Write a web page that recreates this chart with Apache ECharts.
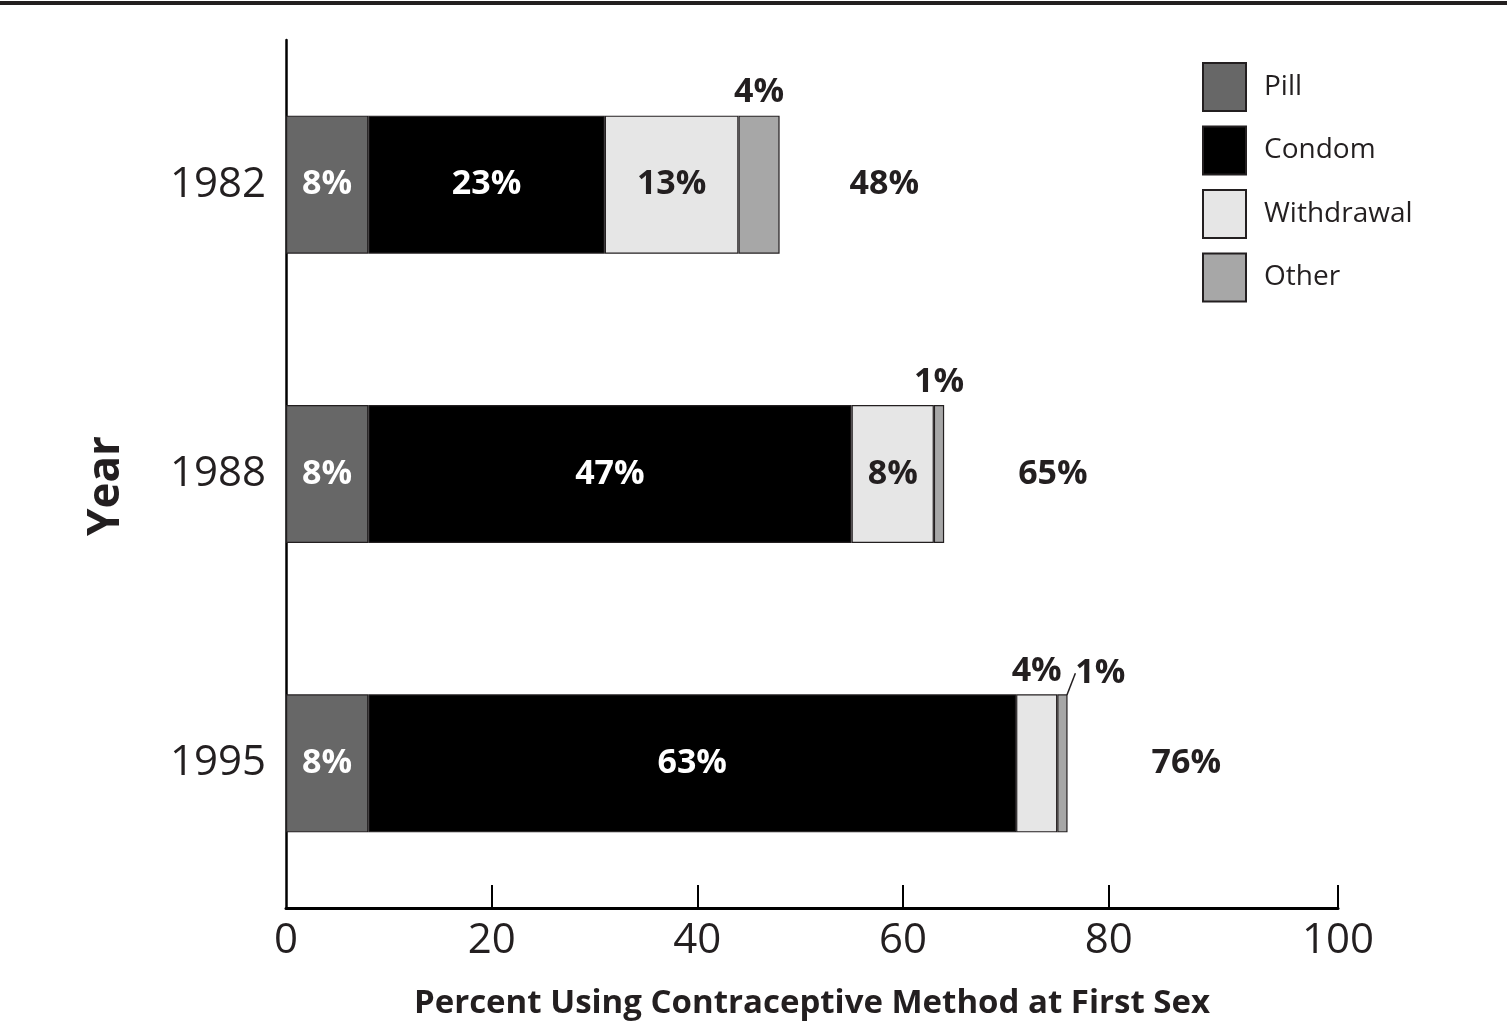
<!DOCTYPE html>
<html>
<head>
<meta charset="utf-8">
<script src="https://cdn.jsdelivr.net/npm/echarts@6/dist/echarts.min.js"></script>
<style>
html,body{margin:0;padding:0;background:#fff;}
#chart{width:1507px;height:1025px;}
</style>
</head>
<body>
<div id="chart"></div>
<script>
// ---- data ----
const years = ['1982', '1988', '1995'];
const pill = [8, 8, 8];
const condom = [23, 47, 63];
const withdrawal = [13, 8, 4];
const other = [4, 1, 1];
const totals = [48, 65, 76];
const tickValues = [0, 20, 40, 60, 80, 100];
const methodNames = ['Pill', 'Condom', 'Withdrawal', 'Other'];

// ---- layout / style constants ----
const FONT = 'Open Sans';
const TXT = '#231f20';
const axisEnd = 102.3;           // the reference's axis runs a little past 100
const totalLabelGaps = [70, 74, 84];
const colors = ['#676767', '#000000', '#e6e6e6', '#a7a7a7'];
const series4 = [pill, condom, withdrawal, other];

const chart = echarts.init(document.getElementById('chart'));

function segLabel(name, v) {
  const small = v < 5;
  const dark = name === 'Pill' || name === 'Condom';
  return {
    show: true,
    position: small ? 'top' : 'inside',
    distance: 6,
    formatter: v + '%',
    fontFamily: FONT, fontWeight: 'bold', fontSize: 34,
    color: (dark && !small) ? '#ffffff' : TXT
  };
}

const barSeries = methodNames.map((name, si) => ({
  name: name,
  type: 'bar',
  stack: 'total',
  barWidth: 138,
  itemStyle: { color: colors[si], borderColor: '#231f20', borderWidth: 1.2 },
  emphasis: { disabled: true },
  labelLine: { show: false },
  labelLayout: (name === 'Other') ? function (p) {
    if (p.dataIndex === 2) return { dx: 38, dy: 2 };
    return {};
  } : undefined,
  data: series4[si].map((v, i) => {
    const item = { value: v, label: segLabel(name, v) };
    if (name === 'Other' && i === 2) {
      item.labelLine = { show: true, lineStyle: { color: TXT, width: 1.5 } };
    }
    return item;
  })
}));

barSeries.push({
  name: 'Total',
  type: 'bar',
  stack: 'total',
  barWidth: 138,
  silent: true,
  itemStyle: { color: 'rgba(0,0,0,0)', borderWidth: 0 },
  data: totals.map((t, i) => ({
    value: 0,
    label: {
      show: true, position: 'right', distance: totalLabelGaps[i],
      formatter: t + '%',
      fontFamily: FONT, fontWeight: 'bold', fontSize: 34, color: TXT
    }
  }))
});

const tickPos = tickValues.map(v => v === 100 ? axisEnd : v);

chart.setOption({
  animation: false,
  backgroundColor: '#ffffff',
  textStyle: { fontFamily: FONT, color: TXT },
  graphic: [{
    type: 'rect', left: 0, top: 1, shape: { width: 1507, height: 4 },
    style: { fill: TXT }
  }],
  legend: {
    data: methodNames,
    orient: 'vertical',
    left: 1202, top: 62,
    itemWidth: 43, itemHeight: 48, itemGap: 13.5,
    icon: 'rect',
    padding: 0,
    selectedMode: false,
    textStyle: { fontFamily: FONT, fontSize: 28, color: TXT, padding: [4, 0, 0, 13] }
  },
  grid: { left: 286, right: 169, top: 40, bottom: 117, containLabel: false },
  xAxis: {
    type: 'value',
    min: 0, max: axisEnd,
    splitLine: { show: false },
    axisLine: { show: true, lineStyle: { color: '#000', width: 3 } },
    axisTick: {
      show: true, inside: true, length: 23,
      customValues: tickPos.filter(v => v !== 0),
      lineStyle: { color: '#000', width: 2 }
    },
    axisLabel: {
      customValues: tickPos,
      formatter: v => (v === axisEnd ? '100' : String(v)),
      fontFamily: FONT, fontSize: 42, color: TXT, margin: 12
    },
    name: 'Percent Using Contraceptive Method at First Sex',
    nameLocation: 'middle',
    nameGap: 79,
    nameTextStyle: { fontFamily: FONT, fontWeight: 'bold', fontSize: 33, color: TXT }
  },
  yAxis: {
    type: 'category',
    data: years,
    inverse: true,
    axisLine: { show: true, lineStyle: { color: '#000', width: 2.5 } },
    axisTick: { show: false },
    axisLabel: { fontFamily: FONT, fontSize: 42, color: TXT, margin: 20, padding: [4, 0, 0, 0] },
    name: 'Year',
    nameLocation: 'middle',
    nameRotate: 90,
    nameGap: 158,
    nameTextStyle: { fontFamily: FONT, fontWeight: 'bold', fontSize: 44, color: TXT, padding: [0, 24, 0, 0] }
  },
  series: barSeries
});
</script>
</body>
</html>
